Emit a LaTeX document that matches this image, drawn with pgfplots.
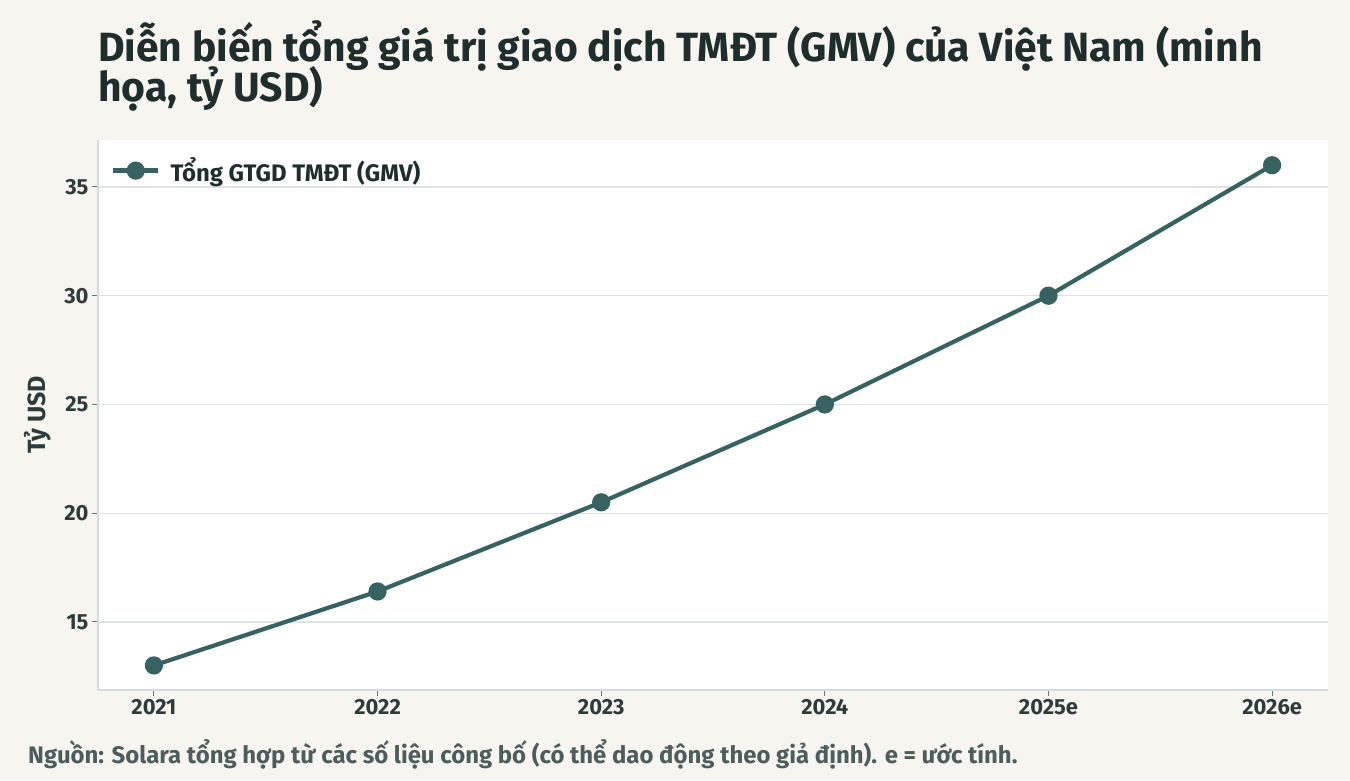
\documentclass[border=0pt]{standalone}
\usepackage{fontspec}
\setmainfont{Fira Sans}
\usepackage{pgfplots}
\pgfplotsset{compat=1.18}
\definecolor{bg}{HTML}{F6F5F0}
\definecolor{linec}{HTML}{366262}
\definecolor{titlec}{HTML}{1F2D2D}
\definecolor{tickc}{HTML}{2E3B3B}
\definecolor{notec}{HTML}{4D5C5C}
\definecolor{gridc}{HTML}{DDE3E3}
\definecolor{axisc}{HTML}{D3DBDB}
\begin{document}
\begin{tikzpicture}[x=1bp,y=1bp]
  \fill[bg] (0,0) rectangle (1350,780);
  \node[anchor=base west, inner sep=0, text=titlec, font=\fontsize{41}{46}\selectfont\bfseries]
    at (98,718) {Diễn biến tổng giá trị giao dịch TMĐT (GMV) của Việt Nam (minh};
  \node[anchor=base west, inner sep=0, text=titlec, font=\fontsize{41}{46}\selectfont\bfseries]
    at (98,678) {họa, tỷ USD)};
  \begin{axis}[
      at={(98bp,90bp)}, anchor=south west,
      scale only axis, width=1230bp, height=550bp,
      xmin=-0.25, xmax=5.25, ymin=11.87, ymax=37.16,
      axis background/.style={fill=white},
      axis lines=left, axis line style={-, axisc, line width=1.2bp},
      xtick={0,1,2,3,4,5},
      xticklabels={2021,2022,2023,2024,2025e,2026e},
      ytick={15,20,25,30,35},
      ymajorgrids, major grid style={gridc, line width=1.3bp},
      tick align=outside, major tick length=6bp,
      tick style={tickc!70, line width=1bp},
      /pgf/number format/assume math mode=true,
      tick label style={text=tickc, font=\fontsize{22}{25}\selectfont\bfseries},
      ylabel={Tỷ USD},
      ylabel shift=6bp,
      ylabel style={text=tickc, font=\fontsize{25}{28}\selectfont\bfseries},
      legend style={draw=none, fill=none, at={(0.008,0.975)}, anchor=north west,
        font=\fontsize{24}{27}\selectfont\bfseries, text=titlec,
        /tikz/every odd column/.append style={column sep=8bp}},
      legend cell align=left,
      legend image code/.code={
        \draw[linec, line width=4.5bp] (0bp,0bp) -- (45bp,0bp);
        \fill[linec] (22.5bp,0bp) circle (7bp);
      },
    ]
    \addplot[linec, line width=4.2bp, mark=*, mark size=7bp, mark options={fill=linec, draw=none}]
      coordinates {(0,13) (1,16.4) (2,20.5) (3,25) (4,30) (5,36)};
    \addlegendentry{Tổng GTGD TMĐT (GMV)}
  \end{axis}
  \node[anchor=base west, inner sep=0, text=notec, font=\fontsize{24}{28}\selectfont\bfseries]
    at (28,17) {Nguồn: Solara tổng hợp từ các số liệu công bố (có thể dao động theo giả định). e = ước tính.};
\end{tikzpicture}
\end{document}
